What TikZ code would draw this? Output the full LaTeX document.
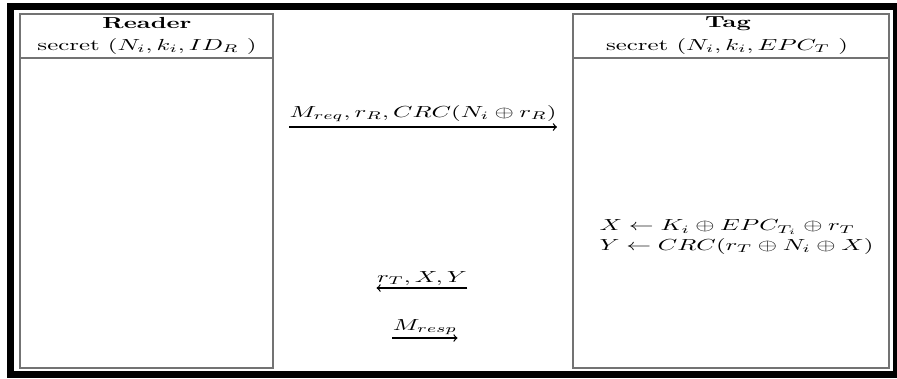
\documentclass[tikz,border=0pt]{standalone}
\usetikzlibrary{positioning, calc}

\begin{document}
\begin{tikzpicture}[x=0.625pt, y=-0.625pt]
            \tikzstyle{frame} = [line width=4.375pt, draw=black]
            \tikzstyle{column} = [line width=1.2pt, draw=black!55]
            \tikzstyle{txt} = [inner sep=0pt, xscale=1.55, anchor=base]
            \tikzstyle{title} = [txt, font=\bfseries]
            \tikzstyle{arrow} = [line width=0.8pt, ->]

            \useasboundingbox (0,0) rectangle (897,378);
            \draw [frame] (10.5,6.5) rectangle (896.5,374.5);

            \draw [column] (20,14) rectangle (273,368);
            \draw [column] (20,58) -- (273,58);
            \draw [column] (573,14) rectangle (889,368);
            \draw [column] (573,58) -- (889,58);

            \node (reader) [title] at (147,28) {Reader};
            \node (rsecret) [txt] at (147,50) {secret $(N_i, k_i, ID_R\ )$};
            \node (tag) [title] at (728,27) {Tag};
            \node (tsecret) [txt] at (727,50) {secret $(N_i, k_i, EPC_T\ )$};

            \node (req) [txt] at (423,117) {$M_{req}, r_R, CRC(N_i \oplus r_R)$};
            \node (compute) [txt, anchor=west, align=left] at (599,237) {$X \leftarrow K_i \oplus EPC_{T_i} \oplus r_T$\\ $Y \leftarrow CRC(r_T \oplus N_i \oplus X)$};
            \node (reply) [txt] at (422,282) {$r_T, X, Y$};
            \node (resp) [txt] at (425,330) {$M_{resp}$};

            \draw [arrow] ($(req.base west)+(0,10)$) -- ($(req.base east)+(0,10)$);
            \draw [arrow] ($(reply.base east)+(0,6)$) -- ($(reply.base west)+(0,6)$);
            \draw [arrow] ($(resp.base west)+(0,8)$) -- ($(resp.base east)+(0,8)$);
        \end{tikzpicture}
\end{document}
